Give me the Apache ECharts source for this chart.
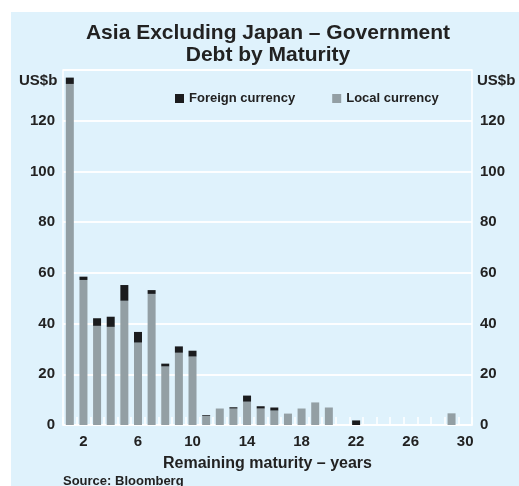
<!DOCTYPE html>
<html><head><meta charset="utf-8">
<script src="https://cdn.jsdelivr.net/npm/echarts@6/dist/echarts.min.js"></script>
<style>html,body{margin:0;padding:0;background:#fff}#c{width:519px;height:486px}</style>
</head><body><div id="c"></div>
<script>
const years = ['1','2','3','4','5','6','7','8','9','10','11','12','13','14','15','16','17','18','19','20','21','22','23','24','25','26','27','28','29','30'];
const localCurrency = [134.5,57.2,39.1,38.7,49,32.5,51.7,23.1,28.5,27,3.6,6.5,6.5,9.2,6.5,5.7,4.5,6.5,8.9,6.9,0,0,0,0,0,0,0,0,4.6,0];
const foreignCurrency = [2.5,1.3,3,4,6.2,4.2,1.5,1.1,2.5,2.3,0.3,0,0.5,2.4,0.9,1.2,0,0,0,0,0,1.8,0,0,0,0,0,0,0,0];
const yTicks = [0,20,40,60,80,100,120];

const FONT = '"Liberation Sans", Arial, sans-serif';
const TXT = '#222';
const chart = echarts.init(document.getElementById('c'), null, {renderer:'canvas'});
const yAxisBase = (pos, margin) => ({
  type:'value', position:pos, min:0, max:140, interval:20,
  axisLine:{show:false}, axisTick:{show:false},
  splitLine:{show:true, lineStyle:{color:'#fff', width:1.5}},
  axisLabel:{margin:margin, color:TXT, fontFamily:FONT, fontWeight:'bold', fontSize:15,
    formatter:v => yTicks.includes(v) ? String(v) : ''}
});
chart.setOption({
  backgroundColor:'#fff',
  animation:false,
  graphic:[
    {type:'rect', left:11, top:12, shape:{width:508, height:474}, style:{fill:'#dff2fc'}, z:-10},
    {type:'text', x:268, y:33, style:{text:'Asia Excluding Japan – Government', fill:TXT, font:'bold 21px '+FONT, textAlign:'center', textVerticalAlign:'middle'}},
    {type:'text', x:268, y:55, style:{text:'Debt by Maturity', fill:TXT, font:'bold 21px '+FONT, textAlign:'center', textVerticalAlign:'middle'}},
    {type:'text', left:19, top:73, style:{text:'US$b', fill:TXT, font:'bold 15px '+FONT}},
    {type:'text', left:477, top:73, style:{text:'US$b', fill:TXT, font:'bold 15px '+FONT}},
    {type:'text', left:63, top:475, style:{text:'Source: Bloomberg', fill:TXT, font:'bold 13px '+FONT}}
  ],
  legend:{data:['Foreign currency','Local currency'], left:170, top:87, itemWidth:9, itemHeight:9, itemGap:37,
    icon:'rect', textStyle:{fontFamily:FONT, fontWeight:'bold', fontSize:13, color:TXT}},
  grid:{left:63, right:47, top:70, bottom:61, show:true, borderColor:'#fff', borderWidth:1.5, backgroundColor:'transparent'},
  xAxis:{type:'category', data:years, name:'Remaining maturity – years', nameLocation:'middle', nameGap:31,
    nameTextStyle:{fontFamily:FONT, fontWeight:'bold', fontSize:16, color:TXT},
    axisLine:{lineStyle:{color:'#fff', width:1.5}},
    axisTick:{show:true, inside:true, length:8, interval:0, lineStyle:{color:'#fff', width:1.5}},
    axisLabel:{interval:(i)=> (i-1)%4===0, margin:9, color:TXT, fontFamily:FONT, fontWeight:'bold', fontSize:15}},
  yAxis:[yAxisBase('left', 8), yAxisBase('right', 8)],
  series:[
    {name:'Local currency', type:'bar', stack:'d', data:localCurrency, barWidth:8, itemStyle:{color:'#939fa4'}},
    {name:'Foreign currency', type:'bar', stack:'d', data:foreignCurrency, barWidth:8, itemStyle:{color:'#1b1c1e'}}
  ]
});
</script></body></html>
